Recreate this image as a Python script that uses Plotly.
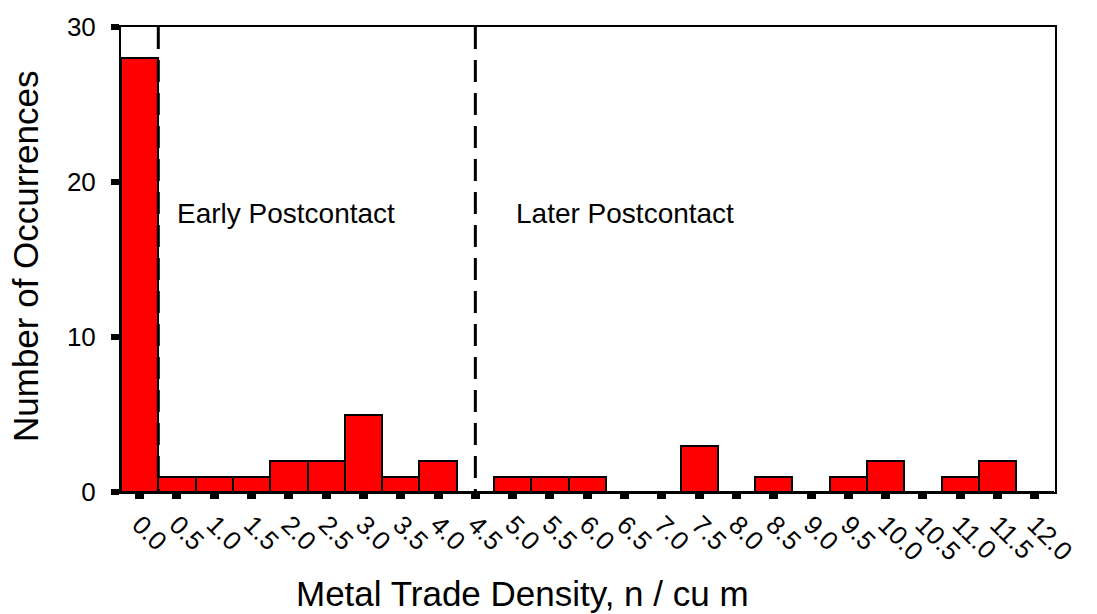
import plotly.graph_objects as go

bin_centers = [0.0, 0.5, 1.0, 1.5, 2.0, 2.5, 3.0, 3.5, 4.0, 4.5, 5.0, 5.5, 6.0,
               6.5, 7.0, 7.5, 8.0, 8.5, 9.0, 9.5, 10.0, 10.5, 11.0, 11.5, 12.0]
counts = [28, 1, 1, 1, 2, 2, 5, 1, 2, 0, 1, 1, 1,
          0, 0, 3, 0, 1, 0, 1, 2, 0, 1, 2, 0]
tick_labels = ["0.0", "0.5", "1.0", "1.5", "2.0", "2.5", "3.0", "3.5", "4.0", "4.5",
               "5.0", "5.5", "6.0", "6.5", "7.0", "7.5", "8.0", "8.5", "9.0", "9.5",
               "10.0", "10.5", "11.0", "11.5", "12.0"]
y_ticks = [0, 10, 20, 30]
period_bounds = [0.25, 4.5]
period_labels = ["Early Postcontact", "Later Postcontact"]
period_label_x = [1.965, 6.5]
period_label_y = 18.0

FONT = "Arial, Liberation Sans, sans-serif"

fig = go.Figure()
fig.add_trace(go.Bar(
    x=bin_centers, y=counts, width=0.5,
    marker=dict(color="#ff0000", line=dict(color="black", width=2)),
))

for xb in period_bounds:
    fig.add_shape(type="line", x0=xb, x1=xb, y0=30, y1=0, xref="x", yref="y",
                  line=dict(color="black", width=3, dash="22px,11px"), layer="above")

for lab, lx in zip(period_labels, period_label_x):
    fig.add_annotation(x=lx, y=period_label_y, text=lab, showarrow=False, xref="x", yref="y",
                       font=dict(size=28, color="black", family=FONT))

# axis titles
fig.add_annotation(x=0.430, y=-0.218, xref="paper", yref="paper", showarrow=False,
                   text="Metal Trade Density, n / cu m", xanchor="center", yanchor="middle",
                   font=dict(size=35, color="black", family=FONT))
fig.add_annotation(x=-0.1028, y=0.5075, xref="paper", yref="paper", showarrow=False,
                   text="Number of Occurrences", textangle=-90, xanchor="center", yanchor="middle",
                   font=dict(size=35, color="black", family=FONT))

fig.update_layout(
    width=1097, height=614,
    margin=dict(l=121, r=42, t=27, b=122),
    paper_bgcolor="white", plot_bgcolor="white",
    showlegend=False, bargap=0,
    font=dict(family=FONT, color="black"),
)
fig.update_xaxes(
    range=[-0.25, 12.27], tickvals=bin_centers, ticktext=tick_labels,
    tickangle=45, ticks="outside", ticklen=5, tickwidth=9, tickcolor="black",
    tickfont=dict(size=26, family=FONT),
    showline=True, linecolor="black", linewidth=2, mirror=True,
    showgrid=False, zeroline=False,
)
fig.update_yaxes(
    range=[0, 30], tickvals=y_ticks,
    ticks="outside", ticklen=8, tickwidth=6, tickcolor="black",
    tickfont=dict(size=26, family=FONT), ticklabelstandoff=10,
    showline=True, linecolor="black", linewidth=2, mirror=True,
    showgrid=False, zeroline=False,
)

fig.write_html("out.html", config={"displayModeBar": False},
               post_script="document.body.style.margin='0px';document.body.style.overflow='hidden';")
